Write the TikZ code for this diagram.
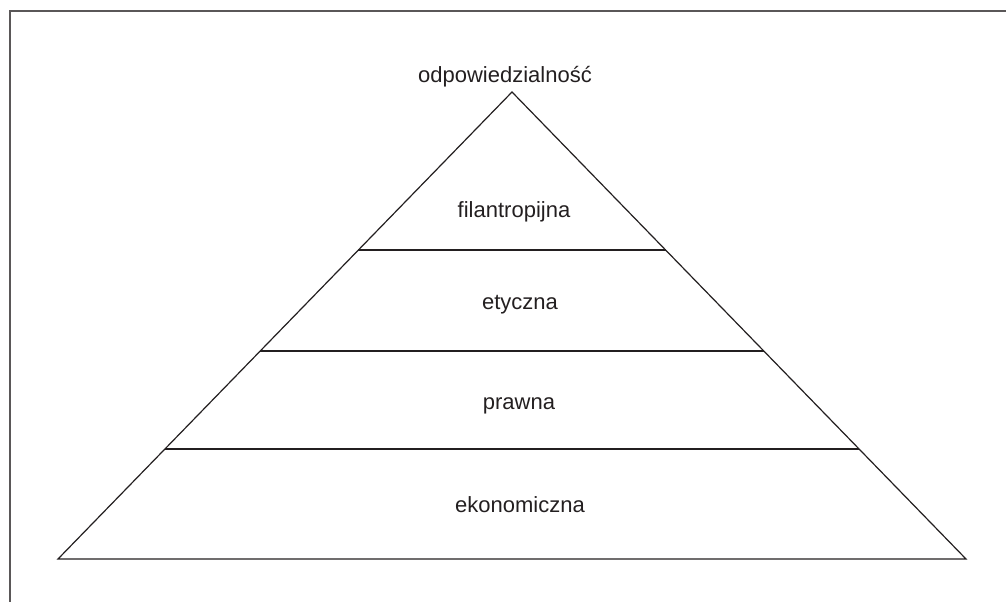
\documentclass[tikz,border=0pt]{standalone}
\usepackage{fontspec}
\setmainfont{Liberation Sans}
\definecolor{ink}{HTML}{231F20}
\begin{document}
\begin{tikzpicture}[x=1pt,y=-1pt,
  lbl/.style={text=ink,font=\fontsize{22}{25}\selectfont,inner sep=0pt,anchor=base},
  edge/.style={draw=ink,line width=1.2pt,line join=miter},
  frame/.style={draw=ink!75,line width=2pt}]
\useasboundingbox (0,0) rectangle (1006,602);
\draw[frame] (1006,11) -- (9.5,11) -- (9.5,602);
\coordinate (apex) at (512,92);
\coordinate (bl) at (58,559);
\coordinate (br) at (966,559);
\draw[edge] (bl) -- (apex) -- (br) -- cycle;
\foreach \n/\yy in {l1/250,l2/351,l3/449}{
  \path (apex) -- (bl) coordinate[pos={(\yy-92)/467}] (\n L);
  \path (apex) -- (br) coordinate[pos={(\yy-92)/467}] (\n R);
  \draw[edge] (\n L) -- (\n R);
}
\node[lbl] (top) at (505,82) {odpowiedzialność};
\node[lbl] (fil) at (514,217) {filantropijna};
\node[lbl] (ety) at (520,309) {etyczna};
\node[lbl] (pra) at (519,409) {prawna};
\node[lbl] (eko) at (520,512) {ekonomiczna};
\end{tikzpicture}
\end{document}
